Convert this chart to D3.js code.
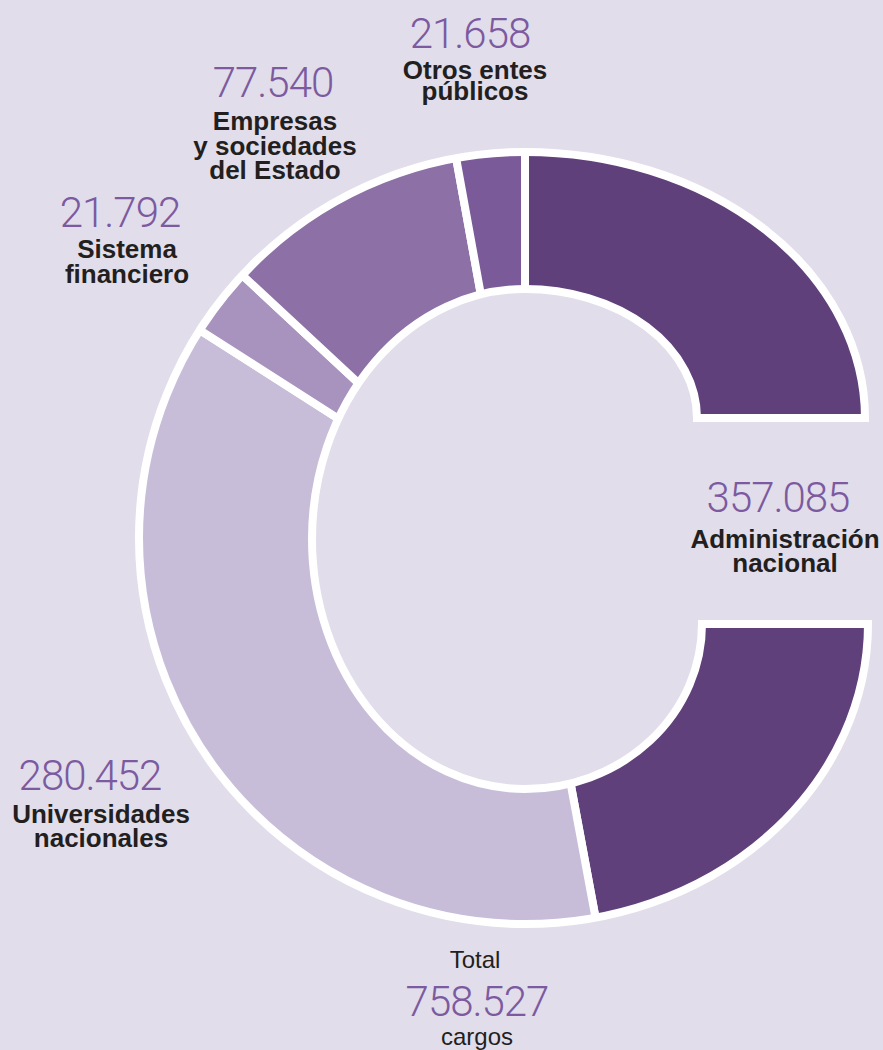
<!DOCTYPE html>
<html>
<head>
<meta charset="utf-8">
<script src="https://cdn.jsdelivr.net/npm/d3@7"></script>
<style>
  body { margin: 0; background: #e2ddea; }
  svg { display: block; }
  .num { font-family: Roboto, "Liberation Sans", sans-serif; font-weight: 300; fill: #7b5aa0; }
  .lbl { font-family: "Liberation Sans", Arial, sans-serif; font-weight: bold; fill: #231f20; }
  .tot { font-family: "Liberation Sans", Arial, sans-serif; fill: #231f20; }
</style>
</head>
<body>
<div class="chart"></div>
<script>
// data
var categories = ["Administración nacional", "Universidades nacionales", "Sistema financiero",
                  "Empresas y sociedades del Estado", "Otros entes públicos"];
var values = [357085, 280452, 21792, 77540, 21658];
var labelLines = [["Administración", "nacional"], ["Universidades", "nacionales"],
                  ["Sistema", "financiero"], ["Empresas", "y sociedades", "del Estado"],
                  ["Otros entes", "públicos"]];
var colors = ["#60407a", "#c7bdd9", "#a793be", "#8c70a6", "#7a5a98"];
var total = 758527;

var width = 883, height = 1050;
var cx = 525, cy = 538;

// label anchors (number centre x, number baseline y, text centre x, first text baseline, line step)
var labelPos = [
    {nx: 778, ny: 512, tx: 785, ty: 548, lh: 24},
    {nx: 90, ny: 790, tx: 101, ty: 823, lh: 23.5},
    {nx: 120, ny: 227, tx: 127, ty: 258, lh: 24.5},
    {nx: 273, ny: 97, tx: 275, ty: 130, lh: 24.5},
    {nx: 470, ny: 48, tx: 475, ty: 79, lh: 21}
];

var locale = d3.formatLocale({decimal: ",", thousands: ".", grouping: [3], currency: ["$", ""]});
var fmt = locale.format(",d");

var svg = d3.select("div.chart")
    .append("svg")
    .attr("width", width)
    .attr("height", height);

svg.append("rect")
    .attr("width", width)
    .attr("height", height)
    .attr("fill", "#e2ddea");

// "C" shaped outline of the ring (the opening on the right holds a label)
var cShape = "M525,152" +
    "A340,266 0 0 1 865,418" +
    "L697,418" +
    "A172,129 0 0 0 525,289" +
    "A213,250 0 0 0 525,789" +
    "A177,165 0 0 0 702,624" +
    "L868,624" +
    "A343,300 0 0 1 525,924" +
    "A386,386 0 0 1 525,152Z";

svg.append("clipPath")
    .attr("id", "cclip")
    .append("path")
    .attr("d", cShape);

var pie = d3.pie().sort(null).value(function (d) { return d; });
var arc = d3.arc().innerRadius(0).outerRadius(700);

var ring = svg.append("g")
    .attr("clip-path", "url(#cclip)");

ring.append("g")
    .attr("transform", "translate(" + cx + "," + cy + ")")
    .selectAll("path")
    .data(pie(values))
    .enter()
    .append("path")
    .attr("d", arc)
    .attr("fill", function (d, i) { return colors[i]; })
    .attr("stroke", "#fff")
    .attr("stroke-width", 8);

svg.append("path")
    .attr("d", cShape)
    .attr("fill", "none")
    .attr("stroke", "#fff")
    .attr("stroke-width", 8);

// labels
var labels = svg.selectAll("g.label")
    .data(values)
    .enter()
    .append("g")
    .attr("class", "label");

labels.append("text")
    .attr("class", "num")
    .attr("x", function (d, i) { return labelPos[i].nx; })
    .attr("y", function (d, i) { return labelPos[i].ny; })
    .attr("text-anchor", "middle")
    .style("font-size", "42px")
    .style("letter-spacing", "-1px")
    .text(function (d) { return fmt(d); });

labels.each(function (d, i) {
    var t = d3.select(this).append("text")
        .attr("class", "lbl")
        .attr("text-anchor", "middle")
        .style("font-size", "26px");
    labelLines[i].forEach(function (line, j) {
        t.append("tspan")
            .attr("x", labelPos[i].tx)
            .attr("y", labelPos[i].ty + j * labelPos[i].lh)
            .text(line);
    });
});

// total
svg.append("text")
    .attr("class", "tot")
    .attr("x", 475).attr("y", 968)
    .attr("text-anchor", "middle")
    .style("font-size", "24px")
    .text("Total");

svg.append("text")
    .attr("class", "num")
    .attr("x", 477).attr("y", 1016)
    .attr("text-anchor", "middle")
    .style("font-size", "42px")
    .style("letter-spacing", "-1px")
    .text(fmt(total));

svg.append("text")
    .attr("class", "tot")
    .attr("x", 477).attr("y", 1045)
    .attr("text-anchor", "middle")
    .style("font-size", "24px")
    .text("cargos");
</script>
</body>
</html>
